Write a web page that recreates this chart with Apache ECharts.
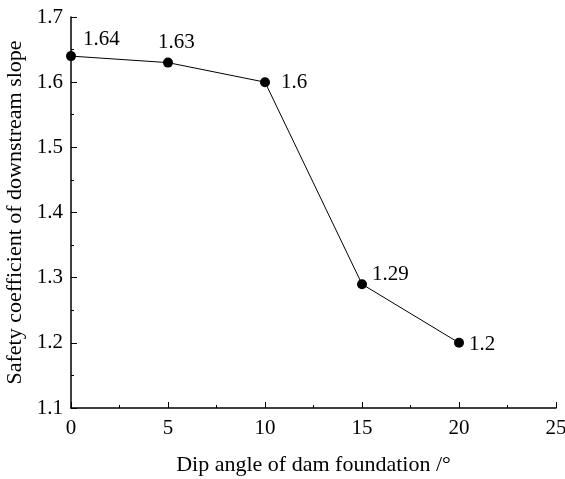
<!DOCTYPE html>
<html>
<head>
    <meta charset="utf-8">
    <title>Safety coefficient</title>
    <script src="https://cdn.jsdelivr.net/npm/echarts@6/dist/echarts.min.js"></script>
</head>
<body style="margin:0">
<div id="main" style="width:565px;height:479px;"></div>
<script type="text/javascript">
    var dipAngles = [0, 5, 10, 15, 20];
    var safetyCoef = [1.64, 1.63, 1.6, 1.29, 1.2];
    // label offsets per point, [dx, dy]
    var labelOffsets = [[2, -17], [-20, -20], [6, 0], [0, -10], [0, 2]];

    var font = '"Liberation Serif", "Times New Roman", serif';

    var points = dipAngles.map(function (x, i) {
        return {
            value: [x, safetyCoef[i]],
            label: { offset: labelOffsets[i] }
        };
    });

    var myChart = echarts.init(document.getElementById('main'));
    myChart.setOption({
        animation: false,
        grid: { left: 71, right: 9, top: 17, bottom: 71, outerBoundsMode: 'none' },
        xAxis: {
            type: 'value',
            min: 0, max: 25, interval: 5,
            name: 'Dip angle of dam foundation /°',
            nameLocation: 'middle',
            nameGap: 46,
            nameTextStyle: { fontFamily: font, fontSize: 22, color: '#000' },
            axisLine: { lineStyle: { color: '#000', width: 1.5 } },
            axisTick: { inside: true, length: 6, lineStyle: { color: '#000' } },
            minorTick: { show: true, splitNumber: 2, length: 3, lineStyle: { color: '#000' } },
            axisLabel: { fontFamily: font, fontSize: 21, color: '#000', margin: 10 },
            splitLine: { show: false }
        },
        yAxis: {
            type: 'value',
            min: 1.1, max: 1.7, interval: 0.1,
            name: 'Safety coefficient of downstream slope',
            nameLocation: 'middle',
            nameGap: 43,
            nameTextStyle: { fontFamily: font, fontSize: 22, color: '#000' },
            axisLine: { show: true, lineStyle: { color: '#000', width: 1.5 } },
            axisTick: { show: true, inside: true, length: 6, lineStyle: { color: '#000' } },
            minorTick: { show: true, splitNumber: 2, length: 3, lineStyle: { color: '#000' } },
            axisLabel: {
                fontFamily: font, fontSize: 21, color: '#000', margin: 8,
                formatter: function (v) { return (Math.round(v * 10) / 10).toString(); }
            },
            splitLine: { show: false }
        },
        series: [{
            type: 'line',
            data: points,
            symbol: 'circle',
            symbolSize: 10,
            itemStyle: { color: '#000' },
            lineStyle: { color: '#000', width: 1 },
            label: {
                show: true,
                position: 'right',
                fontFamily: font,
                fontSize: 21,
                color: '#000',
                formatter: function (p) { return p.value[1]; }
            }
        }]
    });
</script>
</body>
</html>
